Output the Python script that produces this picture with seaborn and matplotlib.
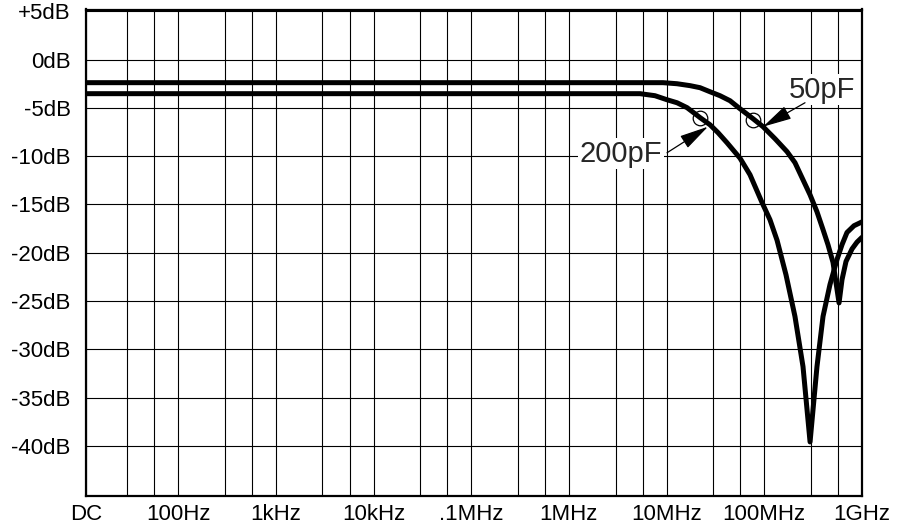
import numpy as np
import pandas as pd
import matplotlib
matplotlib.use("Agg")
import matplotlib.pyplot as plt
from matplotlib.ticker import FixedLocator, FixedFormatter, NullFormatter
import seaborn as sns

# frequency response of the two load capacitances
freq_50pF = [10, 2.08e6, 9.18e6, 1.278e7, 1.74e7, 2.198e7, 2.78e7, 3.52e7, 4.457e7,
             5.64e7, 7.66e7, 9.70e7, 1.288e8, 1.71e8, 2.061e8, 2.94e8, 3.459e8,
             3.99e8, 4.487e8, 5.05e8, 5.82e8, 6.24e8, 6.86e8, 7.91e8, 8.89e8, 1e9]
db_50pF = [-2.38, -2.38, -2.38, -2.49, -2.69, -2.90, -3.32, -3.73, -4.25,
           -5.08, -6.11, -6.94, -8.19, -9.53, -10.67, -14.0, -15.75,
           -17.6, -19.17, -21.0, -25.2, -22.8, -20.9, -19.6, -18.9, -18.4]

freq_200pF = [10, 5.35e6, 7.60e6, 1.01e7, 1.278e7, 1.62e7, 2.20e7, 2.78e7, 3.36e7,
              4.15e7, 5.64e7, 7.14e7, 9.48e7, 1.143e8, 1.35e8, 1.667e8, 2.06e8,
              2.49e8, 2.94e8, 3.46e8, 3.99e8, 4.70e8, 5.55e8, 6.24e8, 7.02e8,
              8.28e8, 1e9]
db_200pF = [-3.52, -3.52, -3.73, -4.15, -4.46, -4.97, -6.0, -6.74, -7.56,
            -8.6, -10.2, -11.92, -14.8, -16.58, -18.7, -22.28, -26.6,
            -31.8, -39.6, -31.8, -26.6, -23.3, -20.7, -19.17, -17.9,
            -17.2, -16.8]

# -3dB markers (circles)
marker_freq = [2.2e7, 7.66e7]
marker_db = [-6.0, -6.2]

# axis ticks
x_ticks = [11.4, 1e2, 1e3, 1e4, 1e5, 1e6, 1e7, 1e8, 1e9]
x_labels = ["DC", "100Hz", "1kHz", "10kHz", ".1MHz", "1MHz", "10MHz", "100MHz", "1GHz"]
x_minor = [f * m for f in [10, 1e2, 1e3, 1e4, 1e5, 1e6, 1e7, 1e8] for m in (3, 5.7)]
y_ticks = [5, 0, -5, -10, -15, -20, -25, -30, -35, -40]
y_labels = ["+5dB", "0dB", "-5dB", "-10dB", "-15dB", "-20dB", "-25dB", "-30dB", "-35dB", "-40dB"]

df = pd.concat([
    pd.DataFrame({"freq": freq_50pF, "dB": db_50pF, "cap": "50pF"}),
    pd.DataFrame({"freq": freq_200pF, "dB": db_200pF, "cap": "200pF"}),
])

sns.set_style("white")
plt.rcParams["font.family"] = ["Liberation Sans", "DejaVu Sans"]

fig = plt.figure(figsize=(8.98, 5.27), dpi=100)
ax = fig.add_axes([86 / 898, 31 / 527, 776 / 898, 486.5 / 527])
ax.set_xscale("log")

sns.lineplot(data=df, x="freq", y="dB", hue="cap", palette=["black", "black"],
             linewidth=3.6, legend=False, estimator=None, sort=False, ax=ax, zorder=3)
ax.plot(marker_freq, marker_db, "o", ms=10.5, mfc="none", mec="black", mew=0.9, zorder=4)

ax.set_xlim(11.4, 1e9)
ax.set_ylim(-45.2, 5.2)

ax.xaxis.set_major_locator(FixedLocator(x_ticks))
ax.xaxis.set_major_formatter(FixedFormatter(x_labels))
ax.xaxis.set_minor_locator(FixedLocator(x_minor))
ax.xaxis.set_minor_formatter(NullFormatter())
ax.set_yticks(y_ticks)
ax.set_yticklabels(y_labels)
ax.tick_params(axis="both", which="both", length=0, labelsize=16, colors="black")
ax.tick_params(axis="x", pad=6)
ax.tick_params(axis="y", pad=11)
ax.grid(True, which="both", color="black", linewidth=0.8)
ax.set_xlabel("")
ax.set_ylabel("")
for s in ax.spines.values():
    s.set_color("black")
    s.set_linewidth(1.6)

# labels with arrows
ax.text(3.41e6, -10.57, "200pF", ha="center", va="baseline", fontsize=21,
        bbox=dict(fc="white", ec="none", pad=1), zorder=5)
ax.text(3.9e8, -3.94, "50pF", ha="center", va="baseline", fontsize=21,
        bbox=dict(fc="white", ec="none", pad=1), zorder=5)
arrow = dict(arrowstyle="-|>,head_length=0.9,head_width=0.22", color="black", lw=0.9,
             mutation_scale=20, shrinkA=0, shrinkB=0)
ax.annotate("", xy=(2.65e7, -6.94), xytext=(1.01e7, -9.64), arrowprops=arrow, zorder=6)
ax.annotate("", xy=(9.7e7, -6.94), xytext=(2.61e8, -4.46), arrowprops=arrow, zorder=6)

fig.savefig("out.png", dpi=100)
